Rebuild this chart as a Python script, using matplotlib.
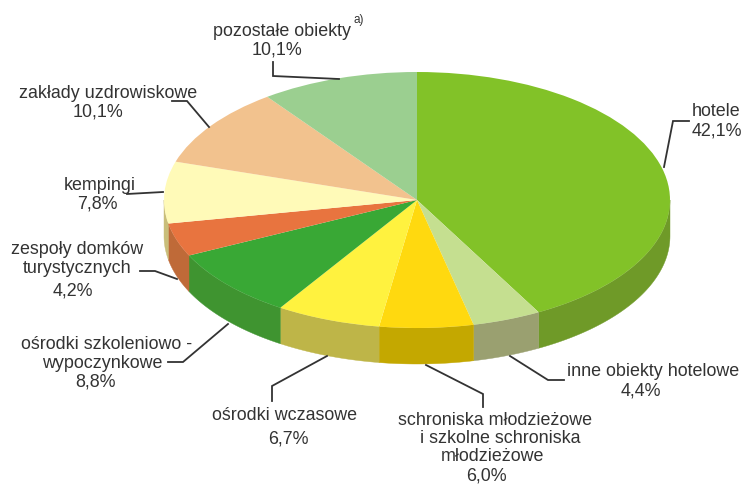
import numpy as np
import matplotlib
matplotlib.use("Agg")
import matplotlib.pyplot as plt

plt.rcParams['font.family'] = ['Liberation Sans', 'DejaVu Sans']

names = ["hotele", "inne obiekty hotelowe", "schroniska", "ośrodki wczasowe", "ośrodki szkoleniowo", "zespoły domków", "kempingi", "zakłady uzdrowiskowe", "pozostałe obiekty"]
values = [42.1, 4.4, 6.0, 6.7, 8.8, 4.2, 7.8, 10.1, 10.1]
top_colors = ["#82C228", "#C5DF90", "#FFD90F", "#FFF23F", "#39A835", "#E8743F", "#FFFAB8", "#F2C28E", "#9BCF90"]
side_colors = ["#6F9A28", "#9AA070", "#C4A800", "#BEB548", "#3F9430", "#BF6A38", "#C9BE7A", "#C8A070", "#7DA875"]

W, H = 742, 485
CX, CY, RX, RY, DEPTH = 417, 201, 253, 128, 36

fig = plt.figure(figsize=(W / 100, H / 100), dpi=100)
ax = fig.add_axes([0, 0, 1, 1])
ax.axis('off')

def clockwise_edges(vals):
    c = np.cumsum([0] + list(vals)) / np.sum(vals) * 360
    return c[:-1], c[1:]

t0s, t1s = clockwise_edges(values)
d = DEPTH / RY
for a, b, col in zip(t0s, t1s, side_colors):
    lo, hi = max(a, 90), min(b, 270)
    if hi <= lo:
        continue
    t = np.radians(np.linspace(lo, hi, 60))
    x, y = np.sin(t), np.cos(t)
    ax.fill(np.r_[x, x[::-1]], np.r_[y, y[::-1] - d], color=col, lw=0.3, zorder=1)

ax.pie(values, colors=top_colors, startangle=90, counterclock=False, radius=1,
       wedgeprops=dict(linewidth=0, zorder=2))
ax.set_aspect('auto')
ax.set_xlim(-CX / RX, (W - CX) / RX)
ax.set_ylim((CY - H) / RY, CY / RY)

ov = fig.add_axes([0, 0, 1, 1])
ov.axis('off')
ov.patch.set_alpha(0)
ov.set_xlim(0, W)
ov.set_ylim(H, 0)

FS = 12.9
TXT = '#333333'
labels = [
    (692, 111, "hotele", 'left'),
    (692, 131, "42,1%", 'left'),
    (653, 372, "inne obiekty hotelowe", 'center'),
    (641, 391, "4,4%", 'center'),
    (495, 421, "schroniska młodzieżowe", 'center'),
    (500, 439, "i szkolne schroniska", 'center'),
    (492, 457, "młodzieżowe", 'center'),
    (486, 476, "6,0%", 'center'),
    (284, 416, "ośrodki wczasowe", 'center'),
    (288, 439, "6,7%", 'center'),
    (107, 345, "ośrodki szkoleniowo -", 'center'),
    (102, 364, "wypoczynkowe", 'center'),
    (96, 382, "8,8%", 'center'),
    (77, 249, "zespoły domków", 'center'),
    (77, 269, "turystycznych", 'center'),
    (73, 291, "4,2%", 'center'),
    (100, 186, "kempingi", 'center'),
    (97, 204, "7,8%", 'center'),
    (108, 93, "zakłady uzdrowiskowe", 'center'),
    (98, 112, "10,1%", 'center'),
    (282, 32, "pozostałe obiekty", 'center'),
    (277, 50, "10,1%", 'center'),
]
for x, y, s, ha in labels:
    ov.text(x, y, s, ha=ha, va='center', fontsize=FS, color=TXT)
ov.text(353, 20, "a)", ha='left', va='center', fontsize=8.5, color=TXT)

leaders = [
    ([664, 673, 689], [168, 122, 122]),
    ([510, 548, 564], [357, 381, 381]),
    ([426, 483, 483], [366, 395, 408]),
    ([327, 272, 272], [357, 387, 402]),
    ([228, 183, 168], [325, 363, 363]),
    ([177, 155, 140], [280, 272, 272]),
    ([163, 127], [193, 195]),
    ([209, 187, 172], [128, 102, 102]),
    ([339, 273, 273], [80, 77, 63]),
]
for xs, ys in leaders:
    ov.plot(xs, ys, color='#333333', lw=1.3, solid_joinstyle='miter')

fig.savefig("out.png", dpi=100, facecolor='white')
